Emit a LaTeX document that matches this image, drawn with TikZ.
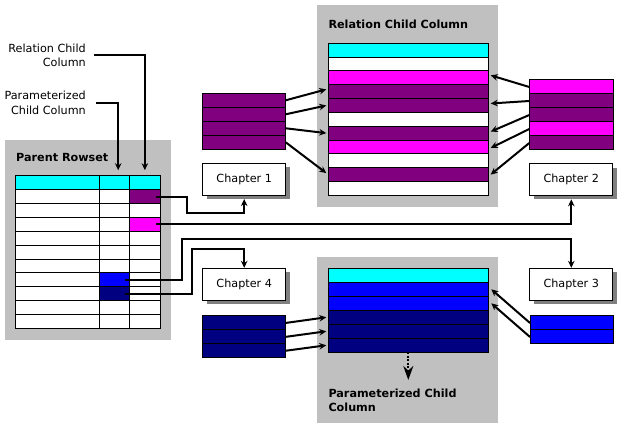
\documentclass[tikz,border=0pt]{standalone}
\usepackage{fontspec}
\setmainfont{DejaVu Sans}
\usetikzlibrary{arrows.meta,shadows}
\definecolor{boxgray}{HTML}{C0C0C0}
\definecolor{shgray}{HTML}{808080}
\definecolor{cyanc}{HTML}{00FFFF}
\definecolor{purplec}{HTML}{800080}
\definecolor{magentac}{HTML}{FF00FF}
\definecolor{bluec}{HTML}{0000FF}
\definecolor{navyc}{HTML}{000080}
\begin{document}
\begin{tikzpicture}[x=1pt,y=-1pt,
  every node/.style={font=\fontsize{11.2}{14.5}\selectfont},
  cell/.style={draw=black, line width=1pt, inner sep=0pt, outer sep=0pt, anchor=north west},
  chap/.style={draw=black, line width=1pt, fill=white, minimum width=83pt, minimum height=31.7pt, inner sep=0pt,
    drop shadow={shadow xshift=4pt, shadow yshift=-4pt, fill=shgray, opacity=1}},
  conn/.style={line width=2pt, -{Stealth[length=7pt,width=6.5pt]}},
  title/.style={font=\fontsize{11.2}{14.5}\selectfont\bfseries, inner sep=0pt, align=left},
  lbl/.style={inner sep=0pt, align=right, anchor=east}
]
\useasboundingbox (0,0) rectangle (622,430);
\fill[white] (0,0) rectangle (622,430);

% gray panels
\fill[boxgray] (5,140) rectangle (171,340);
\fill[boxgray] (317.3,5) rectangle (498.3,206.7);
\fill[boxgray] (317.3,256.7) rectangle (498.3,423.3);

% titles
\node[title, anchor=west] (t1) at (16,157) {Parent Rowset};
\node[title, anchor=west] (t2) at (328.3,24) {Relation Child Column};
\node[title, anchor=north west] (t3) at (328.3,388.3) {Parameterized Child\\Column};

% parent rowset table
\foreach \r in {0,...,10}{
  \foreach [count=\c] \x/\w in {15.7/84, 99.7/30, 129.7/30.3}{
    \def\fc{white}
    \ifnum\r=0 \def\fc{cyanc}\fi
    \ifnum\r=1 \ifnum\c=3 \def\fc{purplec}\fi\fi
    \ifnum\r=3 \ifnum\c=3 \def\fc{magentac}\fi\fi
    \ifnum\r=7 \ifnum\c=2 \def\fc{bluec}\fi\fi
    \ifnum\r=8 \ifnum\c=2 \def\fc{navyc}\fi\fi
    \node[cell, fill=\fc, minimum width=\w pt, minimum height=13.9pt] (p\r-\c) at (\x,175.7+13.9*\r) {};
  }
}

% relation child column table
\foreach [count=\i] \col in {cyanc,white,magentac,purplec,purplec,white,purplec,magentac,white,purplec,white}
  \node[cell, fill=\col, minimum width=160pt, minimum height=13.82pt] (rc\i) at (328.3,43.3+13.82*\i-13.82) {};

% parameterized child column table
\foreach [count=\i] \col in {cyanc,bluec,bluec,navyc,navyc,navyc}
  \node[cell, fill=\col, minimum width=160pt, minimum height=14pt] (pc\i) at (328.3,268.3+14*\i-14) {};

% chapter stacks
\foreach \i in {1,...,4}
  \node[cell, fill=purplec, minimum width=83.4pt, minimum height=14pt] (l\i) at (202.3,93.3+14*\i-14) {};
\foreach [count=\i] \col in {magentac,purplec,purplec,magentac,purplec}
  \node[cell, fill=\col, minimum width=84pt, minimum height=14pt] (r\i) at (529.3,80+14*\i-14) {};
\foreach \i in {1,...,3}
  \node[cell, fill=navyc, minimum width=83.4pt, minimum height=13.9pt] (n\i) at (202.3,316+13.9*\i-13.9) {};
\foreach \i in {1,2}
  \node[cell, fill=bluec, minimum width=83.3pt, minimum height=14pt] (b\i) at (530,316+14*\i-14) {};

% chapters
\node[chap] (ch1) at (244.2,179.2) {Chapter 1};
\node[chap] (ch2) at (571.3,179.5) {Chapter 2};
\node[chap] (ch3) at (571.3,284.2) {Chapter 3};
\node[chap] (ch4) at (244.2,284.2) {Chapter 4};

% labels
\node[lbl] (lab1) at (86,55.5) {Relation Child\\Column};
\node[lbl] (lab2) at (86,103) {Parameterized\\Child Column};
\draw[conn] ([xshift=8pt]lab1.east) -| ([yshift=5.5pt]p0-3.north);
\draw[conn] ([xshift=10pt]lab2.east) -| ([xshift=3.5pt,yshift=5.5pt]p0-2.north);

% stacks to relation column
\draw[conn] (l1.east) -- ([xshift=-2pt,yshift=2.3pt]rc4.west);
\draw[conn] (l2.east) -- ([xshift=-2pt]rc5.west);
\draw[conn] (l3.east) -- ([xshift=-2pt]rc7.west);
\draw[conn] (l4.east) -- ([xshift=-2pt,yshift=1.5pt]rc10.west);
\draw[conn] (r1.west) -- ([xshift=2.4pt,yshift=2.5pt]rc3.east);
\draw[conn] (r2.west) -- ([xshift=2.4pt,yshift=2pt]rc5.east);
\draw[conn] (r3.west) -- ([xshift=2.4pt,yshift=1.5pt]rc7.east);
\draw[conn] (r4.west) -- ([xshift=2.4pt,yshift=-1pt]rc8.east);
\draw[conn] (r5.west) -- ([xshift=2.4pt]rc10.east);

% stacks to parameterized column
\draw[conn] (n1.east) -- ([xshift=-2pt]pc4.west);
\draw[conn] (n2.east) -- ([xshift=-2pt]pc5.west);
\draw[conn] (n3.east) -- ([xshift=-2pt]pc6.west);
\draw[conn] (b1.west) -- ([xshift=3pt]pc2.east);
\draw[conn] (b2.west) -- ([xshift=3pt]pc3.east);

% parent rowset to chapters
\draw[conn] ([xshift=-4pt]p1-3.east) -| (186.7,212.7) -| ([yshift=-3.5pt]ch1.south);
\draw[conn] ([xshift=-4pt]p3-3.east) -| ([yshift=-3.5pt]ch2.south);
\draw[conn] ([xshift=-5pt]p7-2.east) -| (181.7,239.3) -| (ch3.north);
\draw[conn] ([xshift=-5pt]p8-2.east) -| (191.7,249) -| (ch4.north);

% dotted output arrow
\coordinate (dotend) at (408.3,380);
\draw[line width=2pt, dash pattern=on 2pt off 1.5pt, -{Stealth[length=14pt,width=10pt]}] (pc6.south) -- (dotend);
\end{tikzpicture}
\end{document}
